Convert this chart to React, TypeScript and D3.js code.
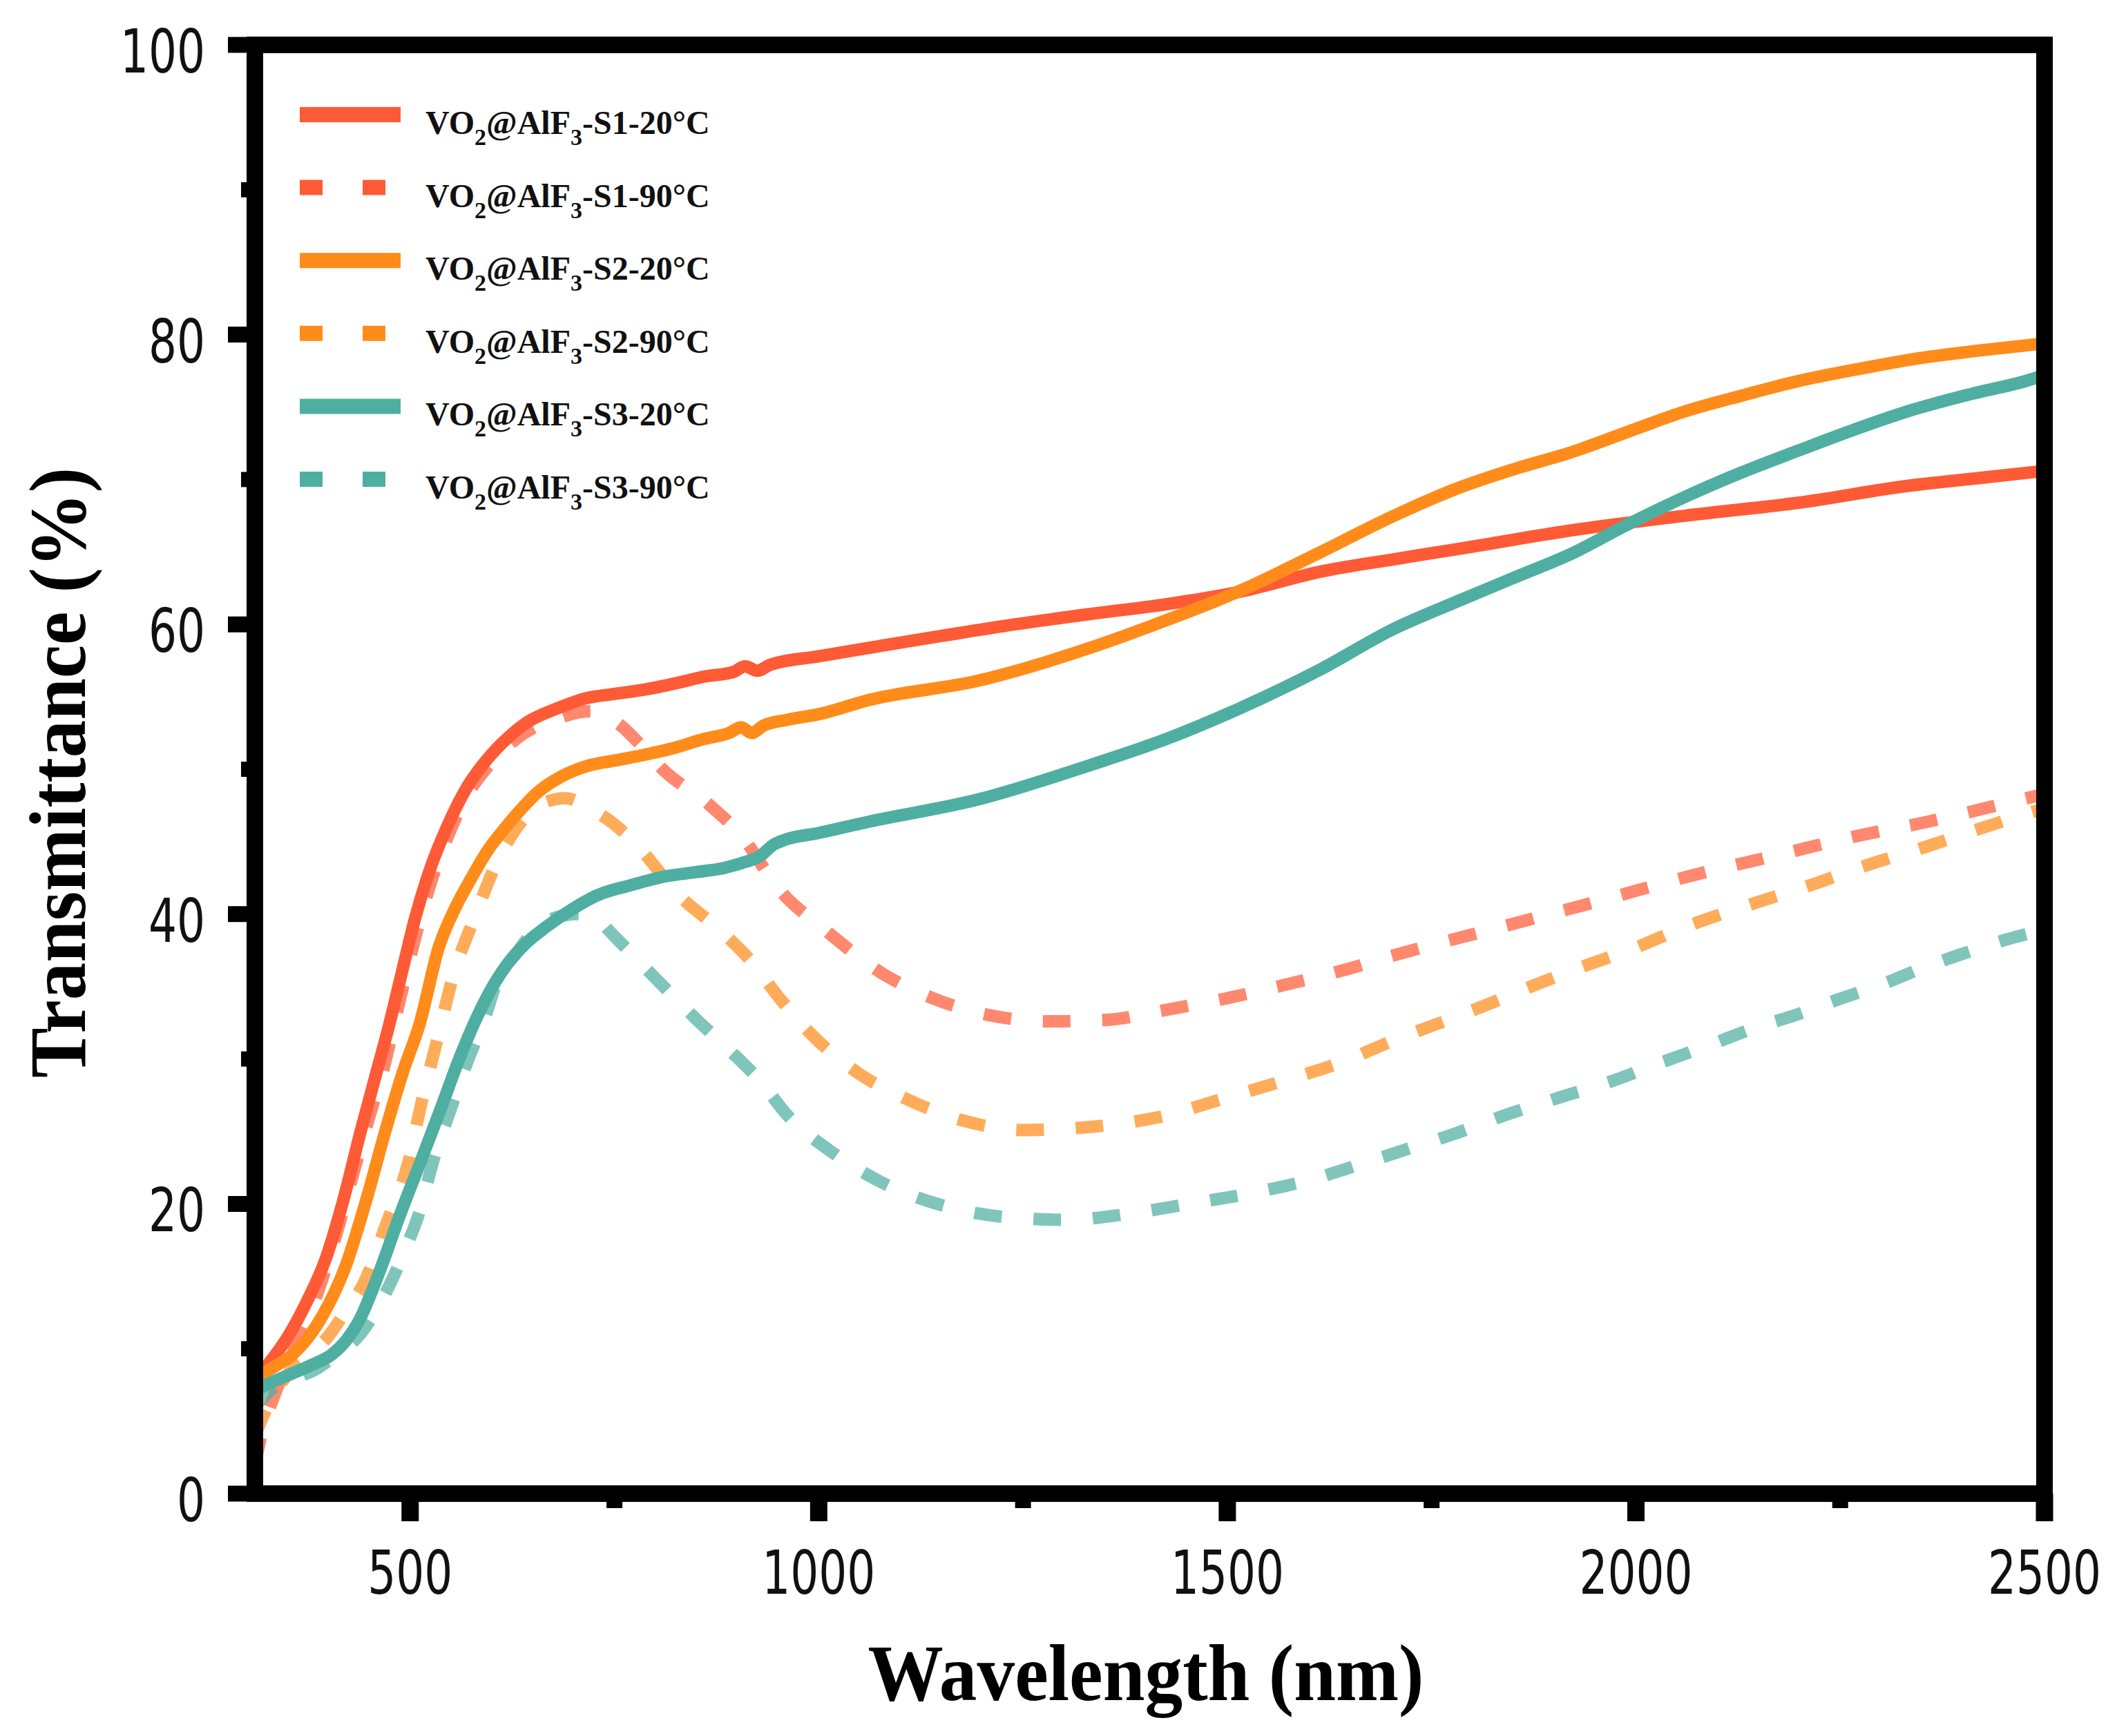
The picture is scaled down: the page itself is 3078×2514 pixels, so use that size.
import React from "react";
import * as d3 from "d3";

// [wavelength nm, transmittance %]
const s1At20: [number, number][] = [
  [310, 7.8], [330, 9.2], [350, 10.8], [374, 13.3], [396, 16.1], [418, 20.2], [439, 24.9],
  [458, 28.9], [475, 32.5], [490, 36.0], [506, 39.7], [525, 43.2], [545, 46.0], [570, 48.8],
  [593, 50.6], [620, 52.2], [642, 53.2], [680, 54.2], [715, 54.9], [750, 55.2], [787, 55.5],
  [830, 56.0], [860, 56.4], [895, 56.7], [910, 57.1], [925, 56.8], [940, 57.2], [1000, 57.8],
  [1063, 58.4], [1150, 59.2], [1240, 60.0], [1330, 60.7], [1426, 61.4], [1519, 62.3],
  [1611, 63.6], [1704, 64.5], [1782, 65.2], [1922, 66.5], [2060, 67.5], [2199, 68.4],
  [2338, 69.6], [2420, 70.1], [2500, 70.6],
];
const s1At90: [number, number][] = [
  [310, 2.0], [320, 4.5], [334, 6.8], [350, 9.0], [380, 12.8], [405, 17.0], [430, 22.0],
  [450, 26.0], [465, 28.8], [485, 33.5], [500, 37.0], [520, 41.2], [545, 45.2], [570, 48.2],
  [600, 50.5], [640, 52.5], [680, 53.5], [720, 54.0], [756, 53.1], [780, 51.8], [809, 50.0],
  [865, 47.6], [907, 45.3], [950, 41.8], [1008, 38.9], [1078, 35.9], [1135, 34.3],
  [1211, 33.0], [1282, 32.6], [1351, 32.7], [1426, 33.4], [1500, 34.2], [1569, 35.1],
  [1640, 36.1], [1713, 37.3], [1841, 39.2], [1961, 41.0], [2064, 42.6], [2175, 44.1],
  [2263, 45.3], [2359, 46.4], [2463, 47.8], [2500, 48.3],
];
const s2At20: [number, number][] = [
  [310, 8.0], [335, 8.8], [356, 9.6], [393, 12.3], [421, 15.7], [447, 20.4], [469, 24.9],
  [490, 28.9], [512, 32.5], [535, 37.7], [555, 40.4], [574, 42.4], [595, 44.4], [617, 46.0],
  [640, 47.5], [656, 48.4], [685, 49.5], [715, 50.2], [750, 50.6], [787, 51.0], [825, 51.5],
  [860, 52.1], [890, 52.5], [905, 52.9], [918, 52.5], [932, 53.0], [960, 53.4], [1000, 53.8],
  [1063, 54.8], [1194, 56.1], [1333, 58.4], [1426, 60.3], [1519, 62.4], [1611, 64.9],
  [1704, 67.5], [1782, 69.4], [1850, 70.7], [1922, 71.9], [2000, 73.5], [2060, 74.7],
  [2130, 75.8], [2199, 76.8], [2270, 77.6], [2338, 78.3], [2420, 78.9], [2500, 79.4],
];
const s2At90: [number, number][] = [
  [310, 4.0], [330, 6.5], [350, 8.2], [375, 9.5], [399, 10.8], [420, 12.5], [443, 14.5],
  [472, 18.8], [497, 22.7], [514, 27.0], [533, 31.3], [552, 35.6], [579, 39.8], [608, 43.8],
  [635, 46.3], [660, 47.6], [690, 48.0], [720, 47.3], [750, 46.2], [780, 44.6], [829, 41.3],
  [877, 39.0], [918, 36.7], [952, 34.2], [991, 31.7], [1049, 29.0], [1109, 27.2],
  [1180, 25.7], [1251, 25.1], [1330, 25.3], [1417, 26.0], [1497, 27.3], [1569, 28.5],
  [1641, 29.8], [1704, 31.3], [1765, 32.6], [1820, 33.8], [1876, 35.1], [1936, 36.4],
  [1996, 37.6], [2055, 39.0], [2115, 40.2], [2175, 41.3], [2224, 42.2], [2268, 43.1],
  [2363, 44.8], [2410, 45.7], [2454, 46.5], [2500, 47.3],
];
const s3At20: [number, number][] = [
  [310, 7.1], [335, 7.8], [356, 8.3], [380, 8.9], [404, 9.6], [422, 10.6], [439, 12.1],
  [452, 13.8], [465, 15.7], [486, 19.0], [512, 22.8], [537, 26.5], [560, 30.0], [577, 32.3],
  [597, 34.6], [617, 36.4], [640, 37.9], [666, 39.1], [700, 40.4], [729, 41.3], [770, 42.0],
  [812, 42.6], [850, 42.9], [885, 43.2], [910, 43.6], [928, 44.0], [945, 44.8], [957, 45.1],
  [1000, 45.6], [1063, 46.4], [1194, 47.9], [1333, 50.3], [1426, 52.1], [1519, 54.3],
  [1611, 56.8], [1704, 59.7], [1782, 61.6], [1850, 63.2], [1922, 64.9], [1990, 66.9],
  [2060, 68.8], [2130, 70.5], [2199, 72.0], [2270, 73.5], [2338, 74.8], [2410, 75.9],
  [2477, 76.8], [2500, 77.2],
];
const s3At90: [number, number][] = [
  [310, 6.0], [340, 7.6], [360, 8.0], [385, 8.6], [410, 9.6], [439, 11.0], [460, 12.8],
  [479, 14.9], [495, 17.0], [510, 19.2], [530, 23.3], [550, 26.6], [570, 29.8], [590, 32.6],
  [608, 35.6], [630, 37.3], [651, 38.8], [680, 39.8], [705, 40.0], [730, 39.6], [746, 38.7],
  [798, 35.7], [851, 32.7], [891, 30.6], [928, 28.5], [962, 26.1], [1018, 23.5],
  [1080, 21.4], [1151, 19.9], [1227, 19.1], [1303, 18.9], [1377, 19.3], [1453, 20.0],
  [1525, 20.7], [1597, 21.6], [1672, 22.9], [1721, 23.8], [1776, 24.8], [1844, 26.2],
  [1904, 27.3], [1972, 28.5], [2028, 29.7], [2092, 31.0], [2143, 32.1], [2199, 33.1],
  [2247, 34.1], [2299, 35.1], [2347, 36.2], [2407, 37.4], [2463, 38.4], [2500, 38.9],
];

const sampleNames = ["S1", "S2", "S3"];
const temps = ["20°C", "90°C"];
const sampleColors = ["#ff5a36", "#ff8c1a", "#4faea2"];
const seriesData = [s1At20, s1At90, s2At20, s2At90, s3At20, s3At90];

const xMajorTicks = [500, 1000, 1500, 2000, 2500];
const xMinorTicks = [750, 1250, 1750, 2250];
const yMajorTicks = [0, 20, 40, 60, 80, 100];
const yMinorTicks = [10, 30, 50, 70, 90];

const W = 3078;
const H = 2514;
const left = 369;
const right = 2960;
const top = 65;
const bottom = 2163;

const numFont = "'Liberation Sans Narrow', 'Arial Narrow', 'DejaVu Sans Condensed', sans-serif";
const serifFont = "'Liberation Serif', 'Times New Roman', serif";
const digitWidth = 41; // the tick digits are narrow, squeeze to match

const App: React.FC = () => {
  const x = d3.scaleLinear().domain([310, 2500]).range([left, right]);
  const y = d3.scaleLinear().domain([0, 100]).range([bottom, top]);

  const line = d3
    .line<[number, number]>()
    .x((d) => x(d[0]))
    .y((d) => y(d[1]))
    .curve(d3.curveMonotoneX);

  const series = seriesData.map((data, i) => ({
    data,
    color: sampleColors[Math.floor(i / 2)],
    dashed: i % 2 === 1,
    sample: sampleNames[Math.floor(i / 2)],
    temp: temps[i % 2],
  }));

  return (
    <svg
      width={W}
      height={H}
      viewBox={`0 0 ${W} ${H}`}
      style={{ position: "absolute", left: 0, top: 0, background: "#fff" }}
    >
      <defs>
        <clipPath id="plot">
          <rect x={left} y={top} width={right - left} height={bottom - top} />
        </clipPath>
      </defs>

      {/* curves */}
      <g clipPath="url(#plot)" fill="none">
        {series.map((s, i) => (
          <path
            key={i}
            d={line(s.data) || ""}
            stroke={s.color}
            strokeWidth={18}
            strokeOpacity={s.dashed ? 0.72 : 1}
            strokeDasharray={s.dashed ? "40 46" : undefined}
            strokeLinejoin="round"
          />
        ))}
      </g>

      {/* legend */}
      <g>
        {series.map((s, i) => {
          const ly = 166 + i * 105.6;
          return (
            <g key={i}>
              <line
                x1={434}
                x2={580}
                y1={ly}
                y2={ly}
                stroke={s.color}
                strokeWidth={22}
                strokeDasharray={s.dashed ? "33 58" : undefined}
              />
              <text
                x={616}
                y={ly + 28}
                fontFamily={serifFont}
                fontWeight="bold"
                fontSize={48}
                fill="#111"
              >
                VO
                <tspan dy={16} fontSize={34}>2</tspan>
                <tspan dy={-16}>@AlF</tspan>
                <tspan dy={16} fontSize={34}>3</tspan>
                <tspan dy={-16}>{`-${s.sample}-${s.temp}`}</tspan>
              </text>
            </g>
          );
        })}
      </g>

      {/* frame */}
      <rect
        x={left}
        y={top}
        width={right - left}
        height={bottom - top}
        fill="none"
        stroke="#000"
        strokeWidth={24}
      />

      {/* y ticks */}
      <g stroke="#000">
        {yMajorTicks.map((t) => (
          <line key={t} x1={left - 39} x2={left} y1={y(t)} y2={y(t)} strokeWidth={23} />
        ))}
        {yMinorTicks.map((t) => (
          <line key={t} x1={left - 20} x2={left} y1={y(t)} y2={y(t)} strokeWidth={22} />
        ))}
      </g>
      <g fontFamily={numFont} fontSize={87} fill="#111" textAnchor="end">
        {yMajorTicks.map((t) => (
          <text
            key={t}
            x={297}
            y={y(t) + 40}
            textLength={String(t).length * digitWidth}
            lengthAdjust="spacingAndGlyphs"
          >
            {t}
          </text>
        ))}
      </g>

      {/* x ticks */}
      <g stroke="#000">
        {xMajorTicks.map((t) => (
          <line key={t} x1={x(t)} x2={x(t)} y1={bottom} y2={bottom + 40} strokeWidth={25} />
        ))}
        {xMinorTicks.map((t) => (
          <line key={t} x1={x(t)} x2={x(t)} y1={bottom} y2={bottom + 21} strokeWidth={23} />
        ))}
      </g>
      <g fontFamily={numFont} fontSize={87} fill="#111" textAnchor="middle">
        {xMajorTicks.map((t) => (
          <text
            key={t}
            x={x(t)}
            y={2308}
            textLength={String(t).length * digitWidth}
            lengthAdjust="spacingAndGlyphs"
          >
            {t}
          </text>
        ))}
      </g>

      {/* axis titles */}
      <text
        x={1659}
        y={2462}
        textAnchor="middle"
        fontFamily={serifFont}
        fontWeight="bold"
        fontSize={116}
        textLength={805}
        lengthAdjust="spacingAndGlyphs"
        fill="#000"
      >
        Wavelength (nm)
      </text>
      <text
        transform={`translate(123, 1119) rotate(-90)`}
        textAnchor="middle"
        fontFamily={serifFont}
        fontWeight="bold"
        fontSize={116}
        textLength={884}
        lengthAdjust="spacingAndGlyphs"
        fill="#000"
      >
        Transmittance (%)
      </text>
    </svg>
  );
};

export default App;
